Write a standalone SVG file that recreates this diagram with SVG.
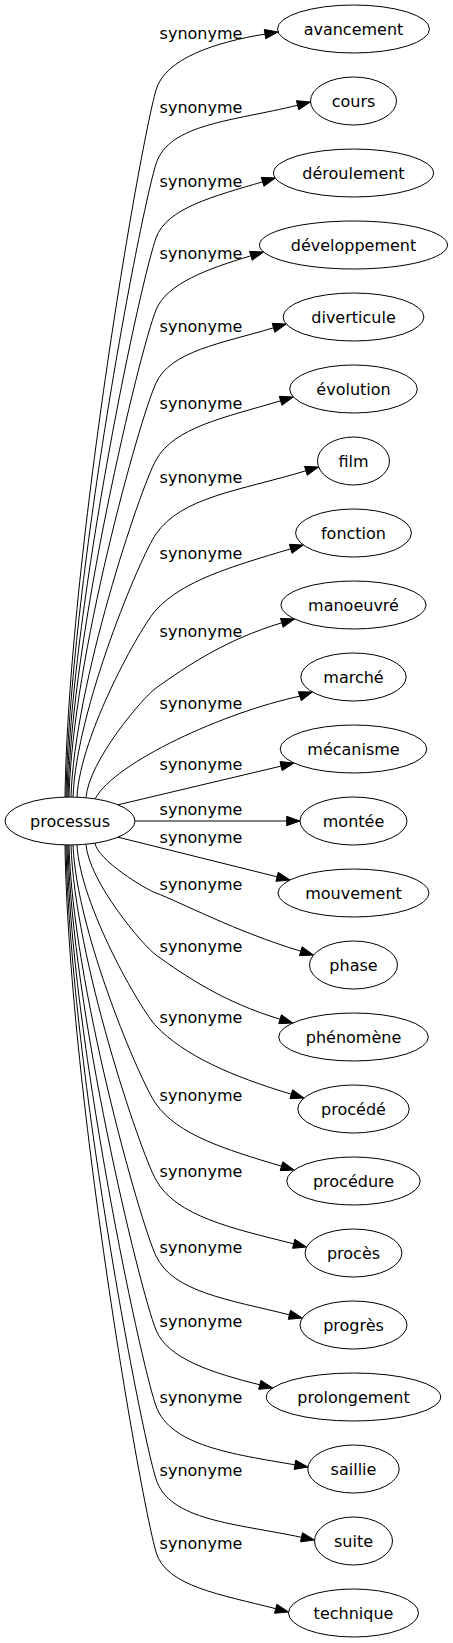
<svg xmlns="http://www.w3.org/2000/svg" width="453" height="1643" viewBox="0 0 453 1643">
<style>
text{font-family:"DejaVu Sans",Verdana,sans-serif;font-size:16px;fill:#000;text-anchor:middle}
ellipse{fill:none;stroke:#000;stroke-width:1}
#edges path{fill:none;stroke:#000;stroke-width:1}
#edges polygon{fill:#000;stroke:#000;stroke-width:1}
</style>
<rect width="453" height="1643" fill="#fff"/>
<g id="edges">
<path d="M65,797.1 C68.6,560.2 139,150.1 156,90 C164.9,58.5 216,42 265,34.1"/>
<polygon points="278.1,32 265.74,38.71 264.26,29.49"/>
<text x="201" y="39">synonyme</text>
<path d="M66,797.1 C69.6,585 139.2,217.8 156,164 C168.7,123.4 233.9,121.1 297.6,105.2"/>
<polygon points="310.5,102 298.73,109.73 296.47,100.67"/>
<text x="201" y="113">synonyme</text>
<path d="M67,797.1 C70.6,609.8 139.4,285.5 156,238 C166.6,207.8 214.6,196.2 262.6,181.8"/>
<polygon points="275.3,178 263.94,186.27 261.26,177.33"/>
<text x="201" y="187">synonyme</text>
<path d="M68,797.1 C71.5,633.9 139.5,351.4 156,310 C166.5,283.5 208.2,268.6 250.9,255.8"/>
<polygon points="263.6,252 252.24,260.27 249.56,251.33"/>
<text x="201" y="259">synonyme</text>
<path d="M69,797.1 C72.5,658.4 139.7,418.2 156,383 C170.8,351 220.6,343.7 273.5,327.8"/>
<polygon points="286.2,324 274.84,332.27 272.16,323.33"/>
<text x="201" y="332">synonyme</text>
<path d="M71,797.1 C74.4,684.2 140.1,488.7 156,460 C174.1,427.3 224.5,417.6 280.6,400.8"/>
<polygon points="293.3,397 281.94,405.27 279.26,396.33"/>
<text x="201" y="409">synonyme</text>
<path d="M73,797.1 C76.3,709 140.5,556.4 156,534 C181.6,497 238.4,491 305.9,470.8"/>
<polygon points="318.6,467 307.24,475.27 304.56,466.33"/>
<text x="201" y="483">synonyme</text>
<path d="M77,797.1 C80.2,734.4 141.2,625.9 156,610 C183.5,580.4 230.1,567 290.7,548.8"/>
<polygon points="303.4,545 292.04,553.27 289.36,544.33"/>
<text x="201" y="559">synonyme</text>
<path d="M86,797.7 C88.8,761 142.9,697.3 156,688 C186.7,666.2 225.2,639.8 281.8,622.8"/>
<polygon points="294.5,619 283.14,627.27 280.46,618.33"/>
<text x="201" y="637">synonyme</text>
<path d="M95,798.9 C115,762 225,712 299.8,696.2"/>
<polygon points="312.4,692 301.26,700.64 298.34,691.76"/>
<text x="201" y="709">synonyme</text>
<path d="M118,804.8 L281.1,766.1"/>
<polygon points="294,763 282.18,770.64 280.02,761.56"/>
<text x="201" y="770">synonyme</text>
<path d="M135,821 L286.7,821"/>
<polygon points="300,821 286.7,825.67 286.7,816.33"/>
<text x="201" y="815">synonyme</text>
<path d="M118,837.2 L277.1,876.8"/>
<polygon points="290,880 275.97,881.33 278.23,872.27"/>
<text x="201" y="843">synonyme</text>
<path d="M95,843.1 C97.4,859.8 144.6,888.8 156,893 C179.5,901.7 235.6,931.6 300.8,951.2"/>
<polygon points="313.5,955 299.46,955.67 302.14,946.73"/>
<text x="201" y="890">synonyme</text>
<path d="M86,844.3 C88.8,881.4 142.9,945.6 156,955 C186.2,976.7 224.3,1002.5 280.1,1019.2"/>
<polygon points="292.8,1023 278.76,1023.67 281.44,1014.73"/>
<text x="201" y="952">synonyme</text>
<path d="M77,844.9 C80.2,905.6 141.2,1010.6 156,1026 C184.1,1055.3 230.4,1075.9 291.3,1094.2"/>
<polygon points="304,1098 289.96,1098.67 292.64,1089.73"/>
<text x="201" y="1023">synonyme</text>
<path d="M73,844.9 C76.3,931.7 140.5,1082 156,1104 C177.7,1134.8 225,1149.3 281.5,1166.2"/>
<polygon points="294.2,1170 280.16,1170.67 282.84,1161.73"/>
<text x="201" y="1101">synonyme</text>
<path d="M71,844.9 C74.4,957.2 140.1,1151.5 156,1180 C176.1,1216.1 231.7,1228.3 293.7,1243.8"/>
<polygon points="306.6,1247 292.57,1248.33 294.83,1239.27"/>
<text x="201" y="1177">synonyme</text>
<path d="M69,844.9 C72.5,982.6 139.7,1221.1 156,1256 C172.9,1292.2 229.4,1299.8 289.4,1314.8"/>
<polygon points="302.3,1318 288.27,1319.33 290.53,1310.27"/>
<text x="201" y="1253">synonyme</text>
<path d="M68,844.9 C71.5,1007.4 139.5,1288.8 156,1330 C167.6,1358.9 213.1,1373.1 259.8,1384.8"/>
<polygon points="272.7,1388 258.67,1389.33 260.93,1380.27"/>
<text x="201" y="1327">synonyme</text>
<path d="M67,844.9 C70.6,1032.9 139.4,1358.3 156,1406 C169.7,1445.4 232.4,1454.2 294.9,1464.8"/>
<polygon points="308,1467 294.12,1469.4 295.68,1460.2"/>
<text x="201" y="1403">synonyme</text>
<path d="M66,844.9 C69.6,1057.3 139.2,1425.1 156,1479 C169,1520.7 236,1523.5 301.5,1537.3"/>
<polygon points="314.5,1540 300.54,1541.87 302.46,1532.73"/>
<text x="201" y="1476">synonyme</text>
<path d="M65,844.9 C68.6,1081.8 139,1491.9 156,1552 C165.8,1586.5 221.8,1594.7 275.7,1608.7"/>
<polygon points="288.6,1612 274.53,1613.22 276.87,1604.18"/>
<text x="201" y="1549">synonyme</text>
</g>
<g id="processus"><ellipse cx="70" cy="821" rx="65" ry="24"/><text x="70" y="827">processus</text></g>
<g id="avancement"><ellipse cx="353.5" cy="29" rx="76" ry="24"/><text x="353.5" y="35">avancement</text></g>
<g id="cours"><ellipse cx="353.5" cy="101" rx="43" ry="24"/><text x="353.5" y="107">cours</text></g>
<g id="deroulement"><ellipse cx="353.5" cy="173" rx="80" ry="24"/><text x="353.5" y="179">déroulement</text></g>
<g id="developpement"><ellipse cx="353.5" cy="245" rx="94" ry="24"/><text x="353.5" y="251">développement</text></g>
<g id="diverticule"><ellipse cx="353.5" cy="317" rx="70.4" ry="24"/><text x="353.5" y="323">diverticule</text></g>
<g id="evolution"><ellipse cx="353.5" cy="389" rx="63.8" ry="24"/><text x="353.5" y="395">évolution</text></g>
<g id="film"><ellipse cx="353.5" cy="461" rx="36" ry="24"/><text x="353.5" y="467">film</text></g>
<g id="fonction"><ellipse cx="353.5" cy="533" rx="57.9" ry="24"/><text x="353.5" y="539">fonction</text></g>
<g id="manoeuvre"><ellipse cx="353.5" cy="605" rx="72.6" ry="24"/><text x="353.5" y="611">manoeuvré</text></g>
<g id="marche"><ellipse cx="353.5" cy="677" rx="52.7" ry="24"/><text x="353.5" y="683">marché</text></g>
<g id="mecanisme"><ellipse cx="353.5" cy="749" rx="73.3" ry="24"/><text x="353.5" y="755">mécanisme</text></g>
<g id="montee"><ellipse cx="353.5" cy="821" rx="53.5" ry="24"/><text x="353.5" y="827">montée</text></g>
<g id="mouvement"><ellipse cx="353.5" cy="893" rx="75.5" ry="24"/><text x="353.5" y="899">mouvement</text></g>
<g id="phase"><ellipse cx="353.5" cy="965" rx="44" ry="24"/><text x="353.5" y="971">phase</text></g>
<g id="phenomene"><ellipse cx="353.5" cy="1037" rx="74.8" ry="24"/><text x="353.5" y="1043">phénomène</text></g>
<g id="procede"><ellipse cx="353.5" cy="1109" rx="55.7" ry="24"/><text x="353.5" y="1115">procédé</text></g>
<g id="procedure"><ellipse cx="353.5" cy="1181" rx="66.7" ry="24"/><text x="353.5" y="1187">procédure</text></g>
<g id="proces"><ellipse cx="353.5" cy="1253" rx="48.4" ry="24"/><text x="353.5" y="1259">procès</text></g>
<g id="progres"><ellipse cx="353.5" cy="1325" rx="53.5" ry="24"/><text x="353.5" y="1331">progrès</text></g>
<g id="prolongement"><ellipse cx="353.5" cy="1397" rx="87.2" ry="24"/><text x="353.5" y="1403">prolongement</text></g>
<g id="saillie"><ellipse cx="353.5" cy="1469" rx="45.7" ry="24"/><text x="353.5" y="1475">saillie</text></g>
<g id="suite"><ellipse cx="353.5" cy="1541" rx="39" ry="24"/><text x="353.5" y="1547">suite</text></g>
<g id="technique"><ellipse cx="353.5" cy="1613" rx="65" ry="24"/><text x="353.5" y="1619">technique</text></g>
</svg>
